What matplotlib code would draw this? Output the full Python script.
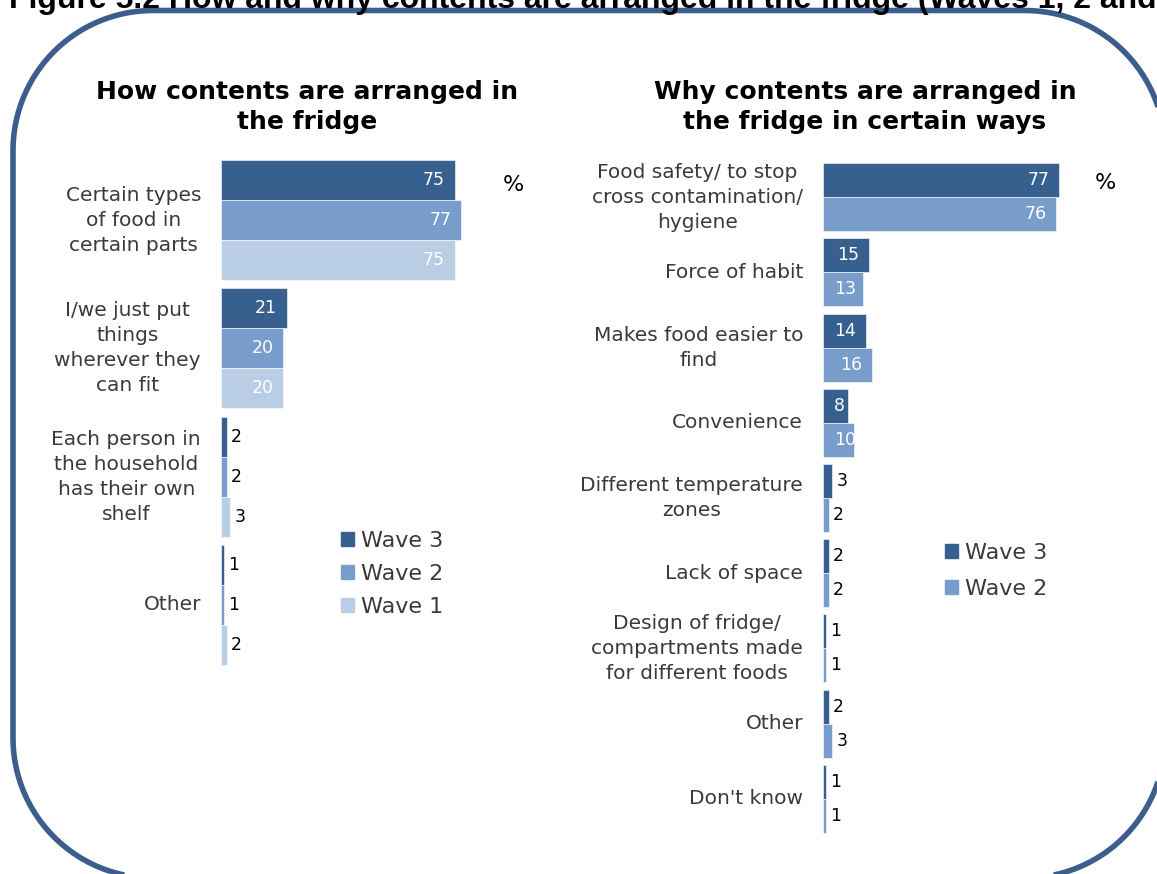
import matplotlib
matplotlib.use("Agg")
import numpy as np
import matplotlib.pyplot as plt
from matplotlib.patches import Patch, PathPatch
from matplotlib.path import Path

# how contents are arranged (waves 3, 2, 1)
how_labels = ["Certain types\nof food in\ncertain parts",
              "I/we just put\nthings\nwherever they\ncan fit",
              "Each person in\nthe household\nhas their own\nshelf",
              "Other"]
how_wave3 = [75, 21, 2, 1]
how_wave2 = [77, 20, 2, 1]
how_wave1 = [75, 20, 3, 2]

# why contents are arranged (waves 3, 2)
why_labels = ["Food safety/ to stop\ncross contamination/\nhygiene",
              "Force of habit",
              "Makes food easier to\nfind",
              "Convenience",
              "Different temperature\nzones",
              "Lack of space",
              "Design of fridge/\ncompartments made\nfor different foods",
              "Other",
              "Don't know"]
why_wave3 = [77, 15, 14, 8, 3, 2, 1, 2, 1]
why_wave2 = [76, 13, 16, 10, 2, 2, 1, 3, 1]

series_names = ["Wave 3", "Wave 2", "Wave 1"]
colors = ["#37608F", "#789DCB", "#B9CDE5"]
text_grey = "#3A3A3A"

W, H = 1157, 874
fig = plt.figure(figsize=(W / 100, H / 100), dpi=100)


def px_axes(left, top, width, bottom):
    return fig.add_axes([left / W, 1 - bottom / H, width / W, (bottom - top) / H])


def draw_panel(ax, labels, series, bar_h, px_per_unit):
    n = len(series)
    for k, vals in enumerate(series):
        offs = (k - (n - 1) / 2) * bar_h
        ys = [i + offs for i in range(len(vals))]
        ax.barh(ys, vals, height=bar_h, color=colors[k], edgecolor="white",
                linewidth=0.4)
        for y, v in zip(ys, vals):
            bar_px = v * px_per_unit
            if v >= 5:
                digits = len(str(v))
                if bar_px - 10 < 10 + 10 * digits:
                    ax.annotate(str(v), (0, y), xytext=(11, 0),
                                textcoords="offset pixels", ha="left",
                                va="center", color="white", fontsize=12.5)
                else:
                    ax.annotate(str(v), (v, y), xytext=(-10, 0),
                                textcoords="offset pixels", ha="right",
                                va="center", color="white", fontsize=12.5)
            else:
                ax.annotate(str(v), (v, y), xytext=(4, 0),
                            textcoords="offset pixels", ha="left",
                            va="center", color="black", fontsize=12.5)
    lab_tr = matplotlib.transforms.offset_copy(ax.get_yaxis_transform(),
                                               fig=fig, x=-20, y=0,
                                               units="dots")
    for i, lab in enumerate(labels):
        ax.text(0, i, lab, transform=lab_tr, ha="right", va="center",
                multialignment="center", fontsize=14.5, color=text_grey,
                linespacing=1.4)
    ax.set_xlim(0, 100)
    ax.set_ylim(len(labels) - 0.5, -0.5)
    ax.axis("off")


def rounded_frame(left, top, right, bottom, r):
    # closed outline with circular corners, in pixels from the top-left
    pts = []
    corners = [(right - r, top + r, 90, 0), (right - r, bottom - r, 0, -90),
               (left + r, bottom - r, -90, -180), (left + r, top + r, 180, 90)]
    for cx, cy, a0, a1 in corners:
        ang = np.radians(np.linspace(a0, a1, 40))
        pts += [(cx + r * np.cos(a), cy - r * np.sin(a)) for a in ang]
    pts.append(pts[0])
    verts = [(x / 100, (H - y) / 100) for x, y in pts]
    return PathPatch(Path(verts), transform=fig.dpi_scale_trans, fill=False,
                     edgecolor="#3B5E8C", linewidth=4.0, clip_on=False)


# left panel
ax1 = px_axes(221, 156, 312, 669)
draw_panel(ax1, how_labels, [how_wave3, how_wave2, how_wave1], 0.3125, 3.12)

# right panel
ax2 = px_axes(823, 159.4, 307, 836.6)
draw_panel(ax2, why_labels, [why_wave3, why_wave2], 0.452, 3.07)

# panel titles
fig.text(307 / W, 1 - 107 / H, "How contents are arranged in\nthe fridge",
         ha="center", va="center", fontsize=18, fontweight="bold",
         linespacing=1.3)
fig.text(865 / W, 1 - 107 / H,
         "Why contents are arranged in\nthe fridge in certain ways",
         ha="center", va="center", fontsize=18, fontweight="bold",
         linespacing=1.3)

# percent markers
fig.text(513 / W, 1 - 185 / H, "%", ha="center", va="center", fontsize=16)
fig.text(1105 / W, 1 - 183 / H, "%", ha="center", va="center", fontsize=16)

# legends
h3 = [Patch(color=c, label=s) for c, s in zip(colors, series_names)]
leg1 = fig.legend(handles=h3, loc="upper left",
                  bbox_to_anchor=(341 / W, 1 - 531 / H), frameon=False,
                  fontsize=16, handlelength=0.6, handleheight=0.6,
                  handletextpad=0.3, labelspacing=0.58, borderpad=0,
                  borderaxespad=0)
for t in leg1.get_texts():
    t.set_color(text_grey)
leg2 = fig.legend(handles=h3[:2], loc="upper left",
                  bbox_to_anchor=(945 / W, 1 - 543 / H), frameon=False,
                  fontsize=16, handlelength=0.6, handleheight=0.6,
                  handletextpad=0.3, labelspacing=0.72, borderpad=0,
                  borderaxespad=0)
for t in leg2.get_texts():
    t.set_color(text_grey)

# rounded frame around both panels
fig.add_artist(rounded_frame(13, 10.5, 1165, 878, 140))

# figure caption (runs off the top edge)
fig.text(9 / W, 1 - 8 / H,
         "Figure 5.2 How and why contents are arranged in the fridge "
         "(Waves 1, 2 and 3)",
         ha="left", va="baseline", fontsize=23, fontweight="bold",
         family="Liberation Sans", zorder=5)

fig.savefig("out.png", dpi=100)
